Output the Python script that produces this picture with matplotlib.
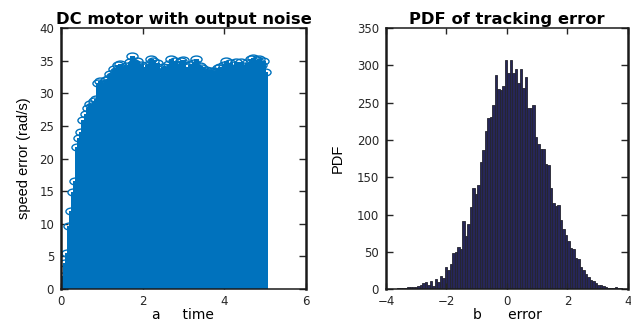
import numpy as np
import matplotlib
matplotlib.use('Agg')
import matplotlib.pyplot as plt
from matplotlib.path import Path
from matplotlib.transforms import Affine2D

# Left panel: motor speed samples (dt = 0.05 s)
dt = 0.05
speed = [0.2, 2.0, 4.0, 5.5, 9.6, 12.0, 14.9, 16.6, 21.8, 23.2,
         24.0, 25.9, 26.8, 27.7, 28.4, 28.1, 28.9, 29.2, 31.6, 31.9,
         30.8, 31.4, 32.0, 32.2, 33.0, 32.6, 33.8, 33.4, 34.3, 34.5,
         33.9, 33.3, 34.2, 33.6, 34.8, 35.8, 34.6, 35.0, 33.2, 34.4,
         33.5, 34.0, 34.3, 33.1, 35.3, 34.9, 33.6, 34.6, 32.9, 33.8,
         34.1, 33.3, 33.7, 34.5, 35.2, 33.4, 34.9, 33.7, 34.3, 35.0,
         35.1, 33.5, 34.0, 34.4, 33.2, 34.7, 35.2, 33.8, 34.2, 33.9,
         33.2, 33.6, 33.1, 33.4, 32.9, 33.5, 33.3, 33.9, 34.1, 33.5,
         34.3, 35.0, 33.7, 34.6, 33.4, 34.4, 34.8, 33.6, 34.8, 33.9,
         34.2, 34.6, 33.5, 35.2, 35.4, 34.1, 35.1, 35.3, 34.4, 35.0,
         33.3]
t = np.arange(len(speed)) * dt

# Right panel: histogram counts of tracking error
bin_start = -3.58
bin_width = 0.0826
counts = [1, 2, 2, 2, 3, 3, 3, 3, 4, 5,
          8, 9, 6, 11, 4, 13, 10, 17, 15, 29,
          26, 33, 49, 50, 56, 54, 91, 71, 87, 110,
          136, 128, 139, 170, 187, 212, 230, 231, 247, 287,
          268, 267, 273, 307, 290, 307, 290, 295, 277, 295,
          270, 285, 243, 243, 247, 204, 194, 188, 188, 168,
          166, 135, 115, 112, 113, 92, 80, 73, 65, 55,
          54, 42, 40, 30, 26, 20, 16, 12, 11, 8,
          6, 6, 4, 3, 2, 1, 2, 3, 2, 1]
centers = bin_start + bin_width * np.arange(len(counts))

blue = '#0072BD'
tick_color = '#262626'

fig = plt.figure(figsize=(6.31, 3.23), dpi=100)
ax1 = fig.add_axes([0.0967, 0.105, 0.388, 0.808])
ax2 = fig.add_axes([0.6117, 0.105, 0.3835, 0.808])

# flattened circle marker (the source image is stretched sideways)
oval = Path.unit_circle().transformed(Affine2D().scale(1.0, 0.62))

markerline, stemlines, baseline = ax1.stem(t, speed, basefmt=' ')
plt.setp(stemlines, color=blue, linewidth=2.3, antialiased=False)
plt.setp(markerline, marker=oval, markersize=8, markerfacecolor='none',
         markeredgecolor=blue, markeredgewidth=1.0)
ax1.set_xlim(0, 6)
ax1.set_ylim(0, 40)
ax1.set_xticks([0, 2, 4, 6])
ax1.set_yticks(np.arange(0, 41, 5))
ax1.set_title('DC motor with output noise', fontsize=11.8, fontweight='bold', pad=3)
ax1.set_xlabel('a     time', fontsize=10, labelpad=0)
ax1.set_ylabel('speed error (rad/s)', fontsize=10.5, family='Liberation Sans', labelpad=6)

ax2.bar(centers, counts, width=bin_width, color='#262658', edgecolor='#24242e', linewidth=0.6)
ax2.set_xlim(-4, 4)
ax2.set_ylim(0, 350)
ax2.set_xticks([-4, -2, 0, 2, 4])
ax2.set_yticks(np.arange(0, 351, 50))
ax2.set_title('PDF of tracking error', fontsize=11.8, fontweight='bold', pad=3)
ax2.set_xlabel('b      error', fontsize=10, labelpad=0)
ax2.set_ylabel('PDF', fontsize=10.5, family='Liberation Sans', labelpad=9)

for ax in (ax1, ax2):
    ax.tick_params(direction='in', top=True, right=True, length=4, width=1,
                   labelsize=8.5, colors=tick_color)
    ax.tick_params(axis='x', pad=4.5)
    ax.tick_params(axis='y', length=5, pad=5)
    for side in ('left', 'right'):
        ax.spines[side].set_linewidth(1.8)
    for side in ('top', 'bottom'):
        ax.spines[side].set_linewidth(1.1)
    for sp in ax.spines.values():
        sp.set_color('#1a1a1a')

fig.savefig('out.png', dpi=100)
